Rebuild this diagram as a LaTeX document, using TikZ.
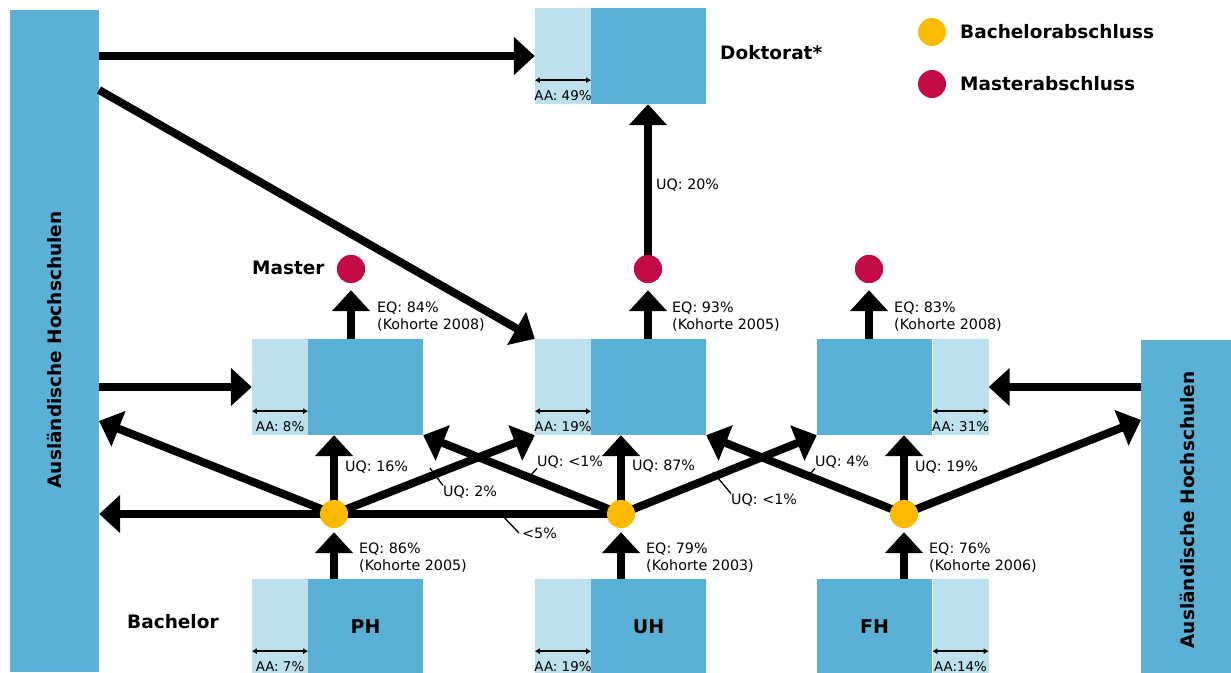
\documentclass[tikz,border=0pt]{standalone}
\usepackage{fontspec}
\setmainfont{DejaVu Sans}
\usetikzlibrary{arrows.meta}

\definecolor{bsblue}{HTML}{5AB1D5}
\definecolor{bslight}{HTML}{BCE0EC}
\definecolor{bsyellow}{HTML}{FDBA00}
\definecolor{bsred}{HTML}{C30A45}

\tikzset{
    darkbox/.style={fill=bsblue, inner sep=0pt, minimum height=96pt, minimum width=115pt},
    lightbox/.style={fill=bslight, inner sep=0pt, minimum height=96pt, minimum width=56pt},
    flow/.style={line width=8pt, -{Triangle[width=37pt,length=21pt]}},
    aaspan/.style={line width=1.5pt, {Latex[length=5pt,width=6pt]}-{Latex[length=5pt,width=6pt]}},
    leader/.style={line width=1.3pt},
    lbl/.style={font=\fontsize{14.3}{17}\selectfont, inner sep=0pt, anchor=west, align=left},
    aalbl/.style={font=\fontsize{13.4}{15}\selectfont, inner sep=0pt},
    head/.style={font=\fontsize{18.5}{22}\selectfont\bfseries, inner sep=0pt},
    bdot/.style={circle, fill=bsyellow, inner sep=0pt, minimum size=28pt},
    mdot/.style={circle, fill=bsred, inner sep=0pt, minimum size=28pt},
}

\begin{document}
\begin{tikzpicture}[x=1pt, y=-1pt]
        \useasboundingbox (0,0) rectangle (1231,672);

        % Auslaendische Hochschulen
        \node[fill=bsblue, inner sep=0pt, minimum width=89pt, minimum height=662pt] (ausL) at (54.5,341) {};
        \node[head, rotate=90] (ausLtxt) at (54,350) {Ausländische Hochschulen};
        \node[fill=bsblue, inner sep=0pt, minimum width=90pt, minimum height=334pt] (ausR) at (1186,507) {};
        \node[head, rotate=90] (ausRtxt) at (1187,510) {Ausländische Hochschulen};

        % Boxes
        \node[lightbox] (dokA) at (563,56) {};
        \node[darkbox] (dok) at (648.5,56) {};
        \node[lightbox] (phMA) at (280,387) {};
        \node[darkbox] (phM) at (365.5,387) {};
        \node[lightbox] (uhMA) at (563,387) {};
        \node[darkbox] (uhM) at (648.5,387) {};
        \node[darkbox] (fhM) at (874.5,387) {};
        \node[lightbox] (fhMA) at (960.5,387) {};
        \node[lightbox] (phBA) at (280,627) {};
        \node[darkbox, font=\fontsize{19}{22}\selectfont\bfseries] (phB) at (365.5,627) {PH};
        \node[lightbox] (uhBA) at (563,627) {};
        \node[darkbox, font=\fontsize{19}{22}\selectfont\bfseries] (uhB) at (648.5,627) {UH};
        \node[darkbox, font=\fontsize{19}{22}\selectfont\bfseries] (fhB) at (874.5,627) {FH};
        \node[lightbox] (fhBA) at (960.5,627) {};

        \foreach \n/\t in {dokA/AA: 49\%, phMA/AA: 8\%, uhMA/AA: 19\%, fhMA/AA: 31\%, phBA/AA: 7\%, uhBA/AA: 19\%, fhBA/AA:14\%} {
            \draw[aaspan] ([yshift=24pt]\n.south west) -- ([yshift=24pt]\n.south east);
            \node[aalbl] (\n lbl) at ([yshift=9pt]\n.south) {\t};
        }

        % Dots
        \node[bdot] (phY) at (334,514) {};
        \node[bdot] (uhY) at (621,514) {};
        \node[bdot] (fhY) at (904,514) {};
        \node[mdot] (phR) at (351,269) {};
        \node[mdot] (uhR) at (648,269) {};
        \node[mdot] (fhR) at (869,269) {};

        \coordinate (ausLd) at (99,90);
        \coordinate (ausLin) at (99,421);
        \coordinate (ausRin) at (1141,420);

        % Leaders
        \node[lbl] (lq2) at (443,492) {UQ: 2\%};
        \node[lbl] (lq1a) at (537,462) {UQ: <1\%};
        \node[lbl] (l5) at (522,533) {<5\%};
        \node[lbl] (lq1b) at (731,500) {UQ: <1\%};
        \node[lbl] (lq4) at (815,462) {UQ: 4\%};
        \draw[leader] (430,468) -- (lq2.north west);
        \draw[leader] (528,478) -- (lq1a.south west);
        \draw[leader] (499,512) -- ([xshift=-3pt]l5.west);
        \draw[leader] (713,472) -- (lq1b.north west);
        \draw[leader] (808,476) -- (lq4.south west);

        % Flows
        \draw[flow] (ausL.east |- dokA.west) -- (dokA.west);
        \draw[flow] (ausLd) -- (uhMA.north west);
        \draw[flow] (ausL.east |- phMA.west) -- (phMA.west);
        \draw[flow] (ausR.west |- fhMA.east) -- (fhMA.east);
        \draw[flow] (uhR.center) -- (uhR |- dok.south);

        \draw[flow, shorten >=7pt] (phR |- phM.north) -- (phR.south);
        \draw[flow, shorten >=7pt] (uhR |- uhM.north) -- (uhR.south);
        \draw[flow, shorten >=7pt] (fhR |- fhM.north) -- (fhR.south);

        \draw[flow, shorten >=4pt] (phY |- phB.north) -- (phY.south);
        \draw[flow, shorten >=4pt] (uhY |- uhB.north) -- (uhY.south);
        \draw[flow, shorten >=4pt] (fhY |- fhB.north) -- (fhY.south);

        \draw[flow] (uhY.center) -- (uhY -| ausL.east);
        \draw[flow] (phY.center) -- (ausLin);
        \draw[flow] (phY.center) -- (phY |- phM.south);
        \draw[flow] (phY.center) -- (uhMA.south west);
        \draw[flow] (uhY.center) -- (phM.south east);
        \draw[flow] (uhY.center) -- (uhY |- uhM.south);
        \draw[flow] (uhY.center) -- (fhM.south west);
        \draw[flow] (fhY.center) -- (uhM.south east);
        \draw[flow] (fhY.center) -- (fhY |- fhM.south);
        \draw[flow] (fhY.center) -- (ausRin);

        % dots on top
        \foreach \d in {phY, uhY, fhY} \fill[bsyellow] (\d) circle (14pt);
        \foreach \d in {phR, uhR, fhR} \fill[bsred] (\d) circle (14pt);

        % Labels
        \node[lbl] (uq16) at (345,467) {UQ: 16\%};
        \node[lbl] (uq87) at (632,466) {UQ: 87\%};
        \node[lbl] (uq19) at (915,467) {UQ: 19\%};
        \node[lbl] (uq20) at (656,185) {UQ: 20\%};
        \node[lbl] (eqphM) at (377,317) {EQ: 84\%\\(Kohorte 2008)};
        \node[lbl] (equhM) at (672,317) {EQ: 93\%\\(Kohorte 2005)};
        \node[lbl] (eqfhM) at (894,317) {EQ: 83\%\\(Kohorte 2008)};
        \node[lbl] (eqphB) at (359,558) {EQ: 86\%\\(Kohorte 2005)};
        \node[lbl] (equhB) at (646,558) {EQ: 79\%\\(Kohorte 2003)};
        \node[lbl] (eqfhB) at (929,558) {EQ: 76\%\\(Kohorte 2006)};

        \node[head, anchor=west] (doktxt) at (720,53) {Doktorat*};
        \node[head, anchor=west] (mastxt) at (252,268) {Master};
        \node[head, anchor=west] (bachtxt) at (127,622) {Bachelor};

        % Legend
        \node[bdot] (legB) at (932,32) {};
        \node[mdot] (legM) at (932,84) {};
        \node[head, anchor=west] (legBtxt) at (960,32) {Bachelorabschluss};
        \node[head, anchor=west] (legMtxt) at (960,84) {Masterabschluss};
\end{tikzpicture}
\end{document}
